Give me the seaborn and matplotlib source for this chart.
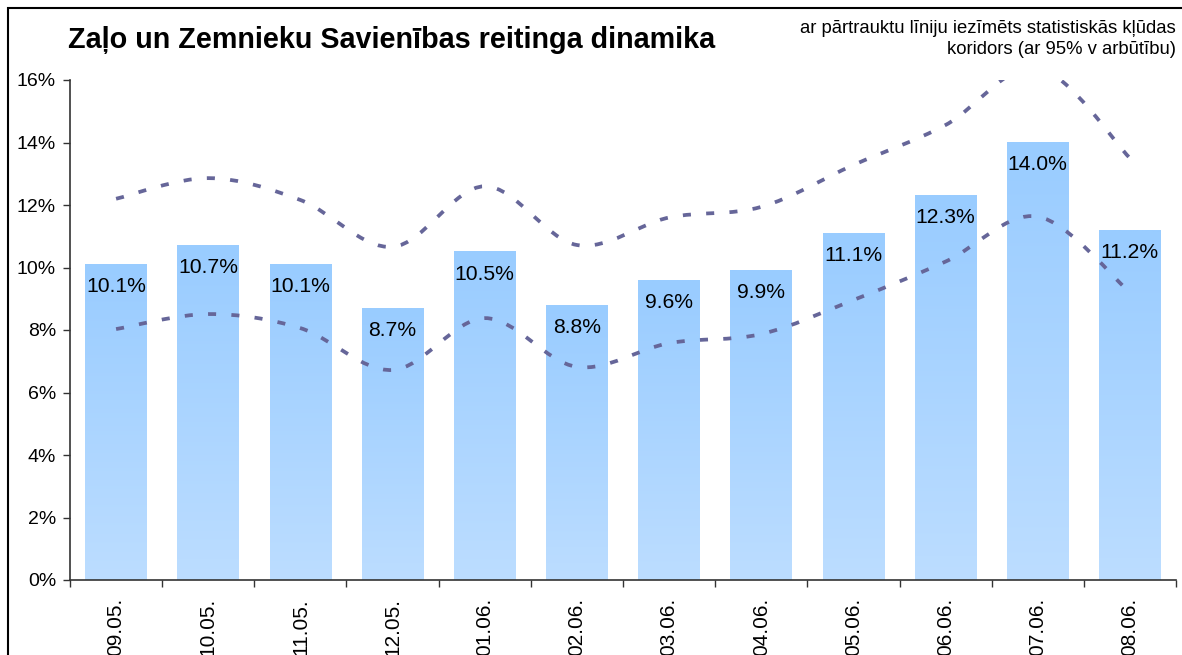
import numpy as np
import matplotlib
matplotlib.use('Agg')
import matplotlib.pyplot as plt
import seaborn as sns
from matplotlib.path import Path
from matplotlib.patches import PathPatch, Rectangle
from matplotlib.ticker import PercentFormatter, FixedLocator

# data
dates = ['09.05.', '10.05.', '11.05.', '12.05.', '01.06.', '02.06.',
         '03.06.', '04.06.', '05.06.', '06.06.', '07.06.', '08.06.']
rating = [10.1, 10.7, 10.1, 8.7, 10.5, 8.8, 9.6, 9.9, 11.1, 12.3, 14.0, 11.2]
upper = [12.2, 12.86, 12.16, 10.66, 12.6, 10.72, 11.6, 11.94, 13.28, 14.56, 16.4, 13.5]
lower = [8.03, 8.51, 8.06, 6.72, 8.38, 6.82, 7.58, 7.87, 8.96, 10.19, 11.63, 9.2]

title = 'Zaļo un Zemnieku Savienības reitinga dinamika'
note = 'ar pārtrauktu līniju iezīmēts statistiskās kļūdas\nkoridors (ar 95% v arbūtību)'

bar_top = '#99CCFF'
bar_bottom = '#BCDDFF'
line_color = '#666699'

sns.set_style('white')
plt.rcParams['font.family'] = ['Liberation Sans', 'DejaVu Sans']
plt.rcParams['text.color'] = 'black'
plt.rcParams['xtick.color'] = 'black'
plt.rcParams['ytick.color'] = 'black'

W, H = 1182, 655
fig = plt.figure(figsize=(W / 100, H / 100), dpi=100)
ax = fig.add_axes([70 / W, 75 / H, 1106 / W, 500 / H])

sns.barplot(x=dates, y=rating, ax=ax, width=0.67, color=bar_top, saturation=1)

# gradient fill on each bar (darker on top, lighter at the bottom)
grad = np.linspace(0, 1, 100)[:, None, None]
c0 = np.array(matplotlib.colors.to_rgb(bar_top))
c1 = np.array(matplotlib.colors.to_rgb(bar_bottom))
img = c0 * (1 - grad) + c1 * grad
for p in ax.patches:
    x0, w, h = p.get_x(), p.get_width(), p.get_height()
    p.set_facecolor('none')
    p.set_edgecolor('none')
    ax.imshow(img, extent=(x0, x0 + w, 0, h), origin='upper',
              aspect='auto', zorder=1, interpolation='bilinear')


# smoothed dashed corridor lines (Excel-like smoothing)
def smooth_path(ys):
    pts = np.column_stack([np.arange(len(ys)), ys]).astype(float)
    verts = [pts[0]]
    codes = [Path.MOVETO]
    n = len(pts)
    for i in range(n - 1):
        p0 = pts[max(i - 1, 0)]
        p1 = pts[i]
        p2 = pts[i + 1]
        p3 = pts[min(i + 2, n - 1)]
        verts += [p1 + (p2 - p0) / 6, p2 - (p3 - p1) / 6, p2]
        codes += [Path.CURVE4] * 3
    return Path(verts, codes)


lw = 2.7
for ys in (upper, lower):
    pp = PathPatch(smooth_path(ys), fill=False, edgecolor=line_color,
                   lw=lw, linestyle=(0, (5.8 / lw, 11 / lw)),
                   capstyle='butt', zorder=3)
    ax.add_patch(pp)

# value labels inside the bars
for i, v in enumerate(rating):
    ax.annotate(f'{v:.1f}%', (i, v), xytext=(0, -16), textcoords='offset points',
                ha='center', va='center', fontsize=15.2, color='black', zorder=4)

ax.set_xlim(-0.5, len(dates) - 0.5)
ax.set_ylim(0, 16)
ax.set_yticks(range(0, 17, 2))
ax.yaxis.set_major_formatter(PercentFormatter(decimals=0))
ax.xaxis.set_minor_locator(FixedLocator(np.arange(-0.5, len(dates), 1)))
ax.tick_params(axis='x', which='major', length=0, pad=13, labelsize=15, rotation=90)
ax.tick_params(axis='x', which='minor', length=5, width=1, color='#333333', bottom=True)
ax.tick_params(axis='y', length=5, width=1, color='#333333', labelsize=14, pad=5, left=True)
for lbl in ax.get_xticklabels():
    lbl.set_va('top')
ax.set_xlabel('')
ax.set_ylabel('')
sns.despine(ax=ax)
for s in ('left', 'bottom'):
    ax.spines[s].set_color('#333333')
    ax.spines[s].set_linewidth(1.2)

fig.text(68 / W, 1 - 48 / H, title, fontsize=20.7, fontweight='bold', va='baseline', ha='left')
fig.text(1176 / W, 1 - 39 / H, note, fontsize=13.3, ha='right', va='center',
         multialignment='right', linespacing=1.35)

# outer frame (only left and top edges visible in the crop)
fig.add_artist(Rectangle((8 / W, -0.2), 1.5, 1 - 8 / H + 0.2, transform=fig.transFigure,
                         fill=False, edgecolor='black', lw=1.5))

fig.savefig('out.png', dpi=100)
